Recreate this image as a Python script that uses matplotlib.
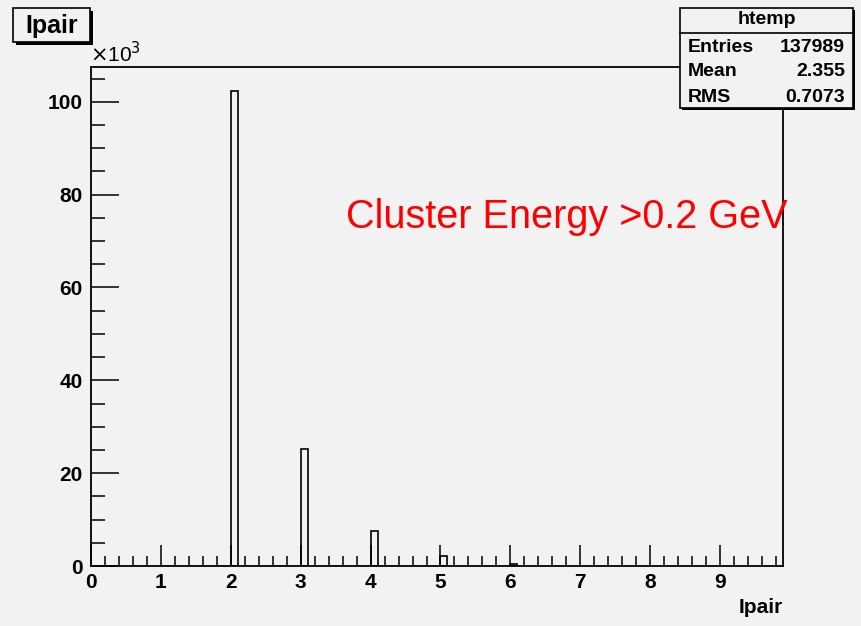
import matplotlib.pyplot as plt
from matplotlib.patches import Rectangle
from matplotlib.ticker import MultipleLocator, FuncFormatter

# histogram content (100 bins from 0 to 9.9)
ipair = [2, 3, 4, 5, 6]
counts = [102300, 25300, 7600, 2200, 400]
bin_width = 0.099
x_max = 9.9
y_max = 107500

stat_names = ["Entries", "Mean", "RMS"]
stat_values = ["137989", "2.355", "0.7073"]

bg = "#f2f2f2"
plt.rcParams['font.family'] = ['Liberation Sans', 'DejaVu Sans']

fig = plt.figure(figsize=(8.61, 6.26), dpi=100, facecolor=bg)
ax = fig.add_axes([0.1057, 0.0958, 0.9094 - 0.1057, 0.893 - 0.0958])
ax.set_facecolor(bg)

ax.bar(ipair, counts, width=bin_width, align='edge', fill=False,
       edgecolor='black', linewidth=1.2)

ax.set_xlim(0, x_max)
ax.set_ylim(0, y_max)

for s in ax.spines.values():
    s.set_linewidth(1.3)

ax.xaxis.set_major_locator(MultipleLocator(1))
ax.xaxis.set_minor_locator(MultipleLocator(0.2))
ax.yaxis.set_major_locator(MultipleLocator(20000))
ax.yaxis.set_minor_locator(MultipleLocator(5000))
ax.yaxis.set_major_formatter(FuncFormatter(lambda v, p: f"{v/1000:.0f}"))

ax.tick_params(axis='both', which='both', direction='in', top=False, right=False,
               labelsize=15, width=1.1)
ax.tick_params(axis='x', which='major', length=15, pad=5)
ax.tick_params(axis='x', which='minor', length=7)
ax.tick_params(axis='y', which='major', length=20, pad=6)
ax.tick_params(axis='y', which='minor', length=10)
for lab in ax.get_xticklabels() + ax.get_yticklabels():
    lab.set_fontweight('bold')

fig.text(0.105, 1 - 66 / 626, r"$\times$10$^3$", fontsize=15, ha='left', va='bottom')

ax.set_xlabel("Ipair", fontsize=15, fontweight='bold', loc='right', labelpad=4)

ax.text(0.368, 0.70, "Cluster Energy >0.2 GeV", transform=ax.transAxes,
        color='#ff0000', fontsize=28.5, ha='left', va='center')

# title box
fig.patches.append(Rectangle((16 / 861, 1 - 45 / 626), 77 / 861, 34 / 626,
                             transform=fig.transFigure, facecolor='black', zorder=5))
fig.patches.append(Rectangle((13 / 861, 1 - 42 / 626), 77 / 861, 34 / 626,
                             transform=fig.transFigure, facecolor=bg,
                             edgecolor='black', linewidth=1.2, zorder=6))
fig.text(51.5 / 861, 1 - 26 / 626, "Ipair", fontsize=18, fontweight='bold',
         ha='center', va='center', zorder=7)

# stats box
bx0, bx1, by0, by1 = 680, 853, 8, 108
fig.patches.append(Rectangle(((bx0 + 2) / 861, 1 - (by1 + 2) / 626), (bx1 - bx0) / 861,
                             (by1 - by0) / 626, transform=fig.transFigure,
                             facecolor='black', zorder=5))
fig.patches.append(Rectangle((bx0 / 861, 1 - by1 / 626), (bx1 - bx0) / 861,
                             (by1 - by0) / 626, transform=fig.transFigure,
                             facecolor=bg, edgecolor='black', linewidth=1.2, zorder=6))
fig.add_artist(plt.Line2D([bx0 / 861, bx1 / 861], [1 - 33 / 626, 1 - 33 / 626],
                          transform=fig.transFigure, color='black', linewidth=1.2, zorder=7))
fig.text((bx0 + bx1) / 2 / 861, 1 - 19 / 626, "htemp", fontsize=14,
         fontweight='bold', ha='center', va='center', zorder=7)
for i, (n, v) in enumerate(zip(stat_names, stat_values)):
    yy = 1 - (47 + 25 * i) / 626
    fig.text(688 / 861, yy, n, fontsize=14, fontweight='bold', ha='left',
             va='center', zorder=7)
    fig.text(845 / 861, yy, v, fontsize=14, fontweight='bold', ha='right',
             va='center', zorder=7)

fig.savefig("out.png", dpi=100, facecolor=bg)
